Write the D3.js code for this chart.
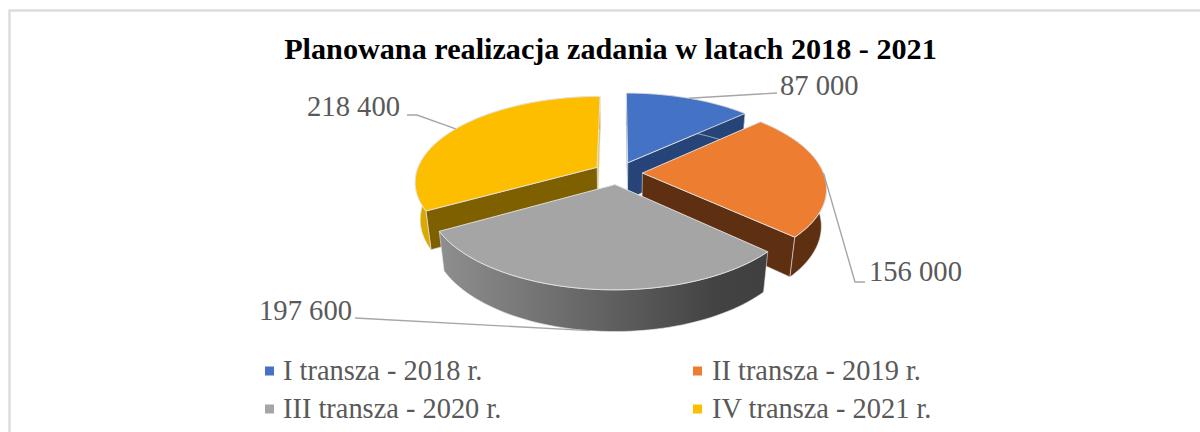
<!DOCTYPE html>
<html><head><meta charset="utf-8">
<script src="https://cdn.jsdelivr.net/npm/d3@7"></script>
<style>html,body{margin:0;padding:0;background:#fff;overflow:hidden}svg{display:block}
text{font-family:"Liberation Serif",serif}</style></head>
<body><svg id="c" width="1200" height="432"></svg>
<script>
const categories=["I transza - 2018 r.","II transza - 2019 r.","III transza - 2020 r.","IV transza - 2021 r."];
const values=[87000,156000,197600,218400];
const topColors=["#4472c4","#ed7d31","#a5a5a5","#fdbe00"];
const startFaceColors=["#264478","#5f2f12","#6e6e6e","#7f6000"];
const endFaceColors=["#264478","#5f2f12","#6e6e6e","#e8c040"];
const wallColors=["#264478","#5f2f12","url(#greyWall)","#dba800"];
const titleText="Planowana realizacja zadania w latach 2018 - 2021";
const labelAnchors=[[780,95,"start"],[869,281,"start"],[352,320,"end"],[400,116,"end"]];
const legendPos=[[265,283,380],[693,712,380],[265,283,418],[693,712,418]];

const svg=d3.select("#c");
const cx=618,cy=173,Rx=181,Ry=84.1,persp=0.162,drop=38,dropP=0.025,explode=0.135;
const arcs=d3.pie().sort(null).startAngle(0).endAngle(2*Math.PI)(values);
const fmt=v=>d3.format(",")(v).replace(/,/g," ");

function proj(a,r,mid,h){
  const U=r*Math.sin(a)+explode*Math.sin(mid), V=-r*Math.cos(a)-explode*Math.cos(mid);
  const d=1-persp*V+dropP*h;
  return [cx+Rx*U/d, cy+(Ry*V+drop*h)/d];
}
const line=d3.line();
function rim(s,h){
  const mid=(s.startAngle+s.endAngle)/2;
  return d3.range(0,61).map(i=>proj(s.startAngle+(s.endAngle-s.startAngle)*i/60,1,mid,h));
}
const defs=svg.append("defs");
const grad=defs.append("linearGradient").attr("id","greyWall").attr("gradientUnits","userSpaceOnUse")
  .attr("x1",442).attr("x2",764).attr("y1",0).attr("y2",0);
grad.append("stop").attr("offset",0).attr("stop-color","#8e8e8e");
grad.append("stop").attr("offset",0.85).attr("stop-color","#434343");
grad.append("stop").attr("offset",1).attr("stop-color","#404040");

svg.append("rect").attr("x",9.5).attr("y",10.5).attr("width",1300).attr("height",500)
  .attr("fill","#fff").attr("stroke","#dcdcdc").attr("stroke-width",2.4);

svg.append("text").attr("x",610.5).attr("y",59).attr("text-anchor","middle")
  .attr("font-size",30.2).attr("font-weight","bold").attr("fill","#000").text(titleText);

const edge="#e4e4e4";
[3,0,1,2].forEach(i=>{
  const s=arcs[i],mid=(s.startAngle+s.endAngle)/2,g=svg.append("g");
  const top=rim(s,0),bot=rim(s,1);
  const apexT=proj(0,0,mid,0),apexB=proj(0,0,mid,1);
  const startQuad=[apexT,top[0],bot[0],apexB],endQuad=[apexT,top[60],bot[60],apexB];
  if(d3.polygonArea(endQuad)<0)
    g.append("path").attr("d",line(endQuad)+"Z").attr("fill",endFaceColors[i]).attr("stroke",edge).attr("stroke-width",.6);
  if(d3.polygonArea(startQuad)>0)
    g.append("path").attr("d",line(startQuad)+"Z").attr("fill",startFaceColors[i]).attr("stroke",edge).attr("stroke-width",.6);
  g.append("path").attr("d",line([...top,...bot.slice().reverse()])+"Z").attr("fill",wallColors[i]).attr("stroke",edge).attr("stroke-width",.6);
  g.append("path").attr("d",line([apexT,...top])+"Z").attr("fill",topColors[i]).attr("stroke",edge).attr("stroke-width",.9);
});

const rimHeights=[0,0,1,0];
arcs.forEach((s,i)=>{
  const mid=(s.startAngle+s.endAngle)/2;
  const p=proj(mid,1,mid,rimHeights[i]);
  const [lx,ly,anc]=labelAnchors[i];
  const pts=i===1?[p,[855,282],[865,282]]:i===0?[p,[lx-3,ly-2]]:i===2?[p,[lx+3,ly-2]]:[p,[417,115],[lx+7,115]];
  svg.append("path").attr("d",line(pts)).attr("fill","none").attr("stroke","#a6a6a6").attr("stroke-width",1.4);
  svg.append("text").attr("x",lx).attr("y",ly).attr("text-anchor",anc)
    .attr("font-size",28.6).attr("fill","#595959").text(fmt(values[i]));
});

categories.forEach((c,i)=>{
  const [sx,tx,y]=legendPos[i];
  svg.append("rect").attr("x",sx).attr("y",y-13.5).attr("width",9).attr("height",9).attr("fill",topColors[i]);
  svg.append("text").attr("x",tx).attr("y",y).attr("font-size",28.4).attr("fill","#595959").text(c);
});
</script></body></html>
